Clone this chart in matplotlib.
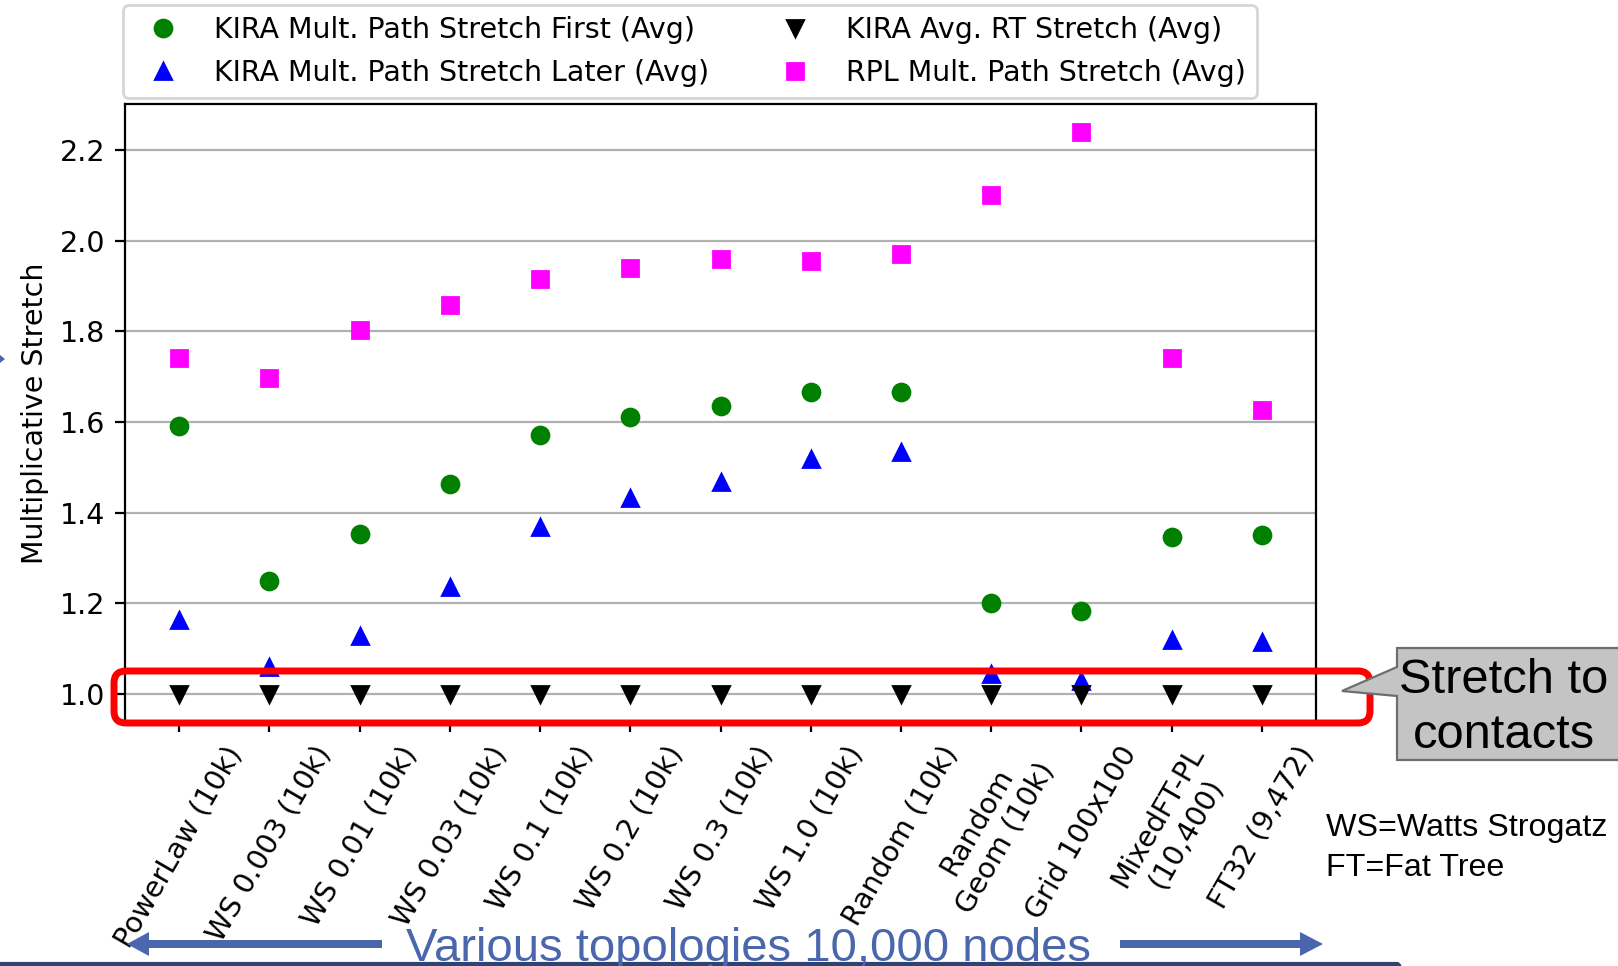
import matplotlib.pyplot as plt
from matplotlib.patches import FancyBboxPatch, Polygon, FancyArrow

# Average multiplicative stretch per topology (10k-node experiments)
topologies = ["PowerLaw (10k)", "WS 0.003 (10k)", "WS 0.01 (10k)", "WS 0.03 (10k)",
              "WS 0.1 (10k)", "WS 0.2 (10k)", "WS 0.3 (10k)", "WS 1.0 (10k)",
              "Random (10k)", "Random\nGeom (10k)", "Grid 100x100",
              "MixedFT-PL\n(10,400)", "FT32 (9,472)"]

kira_first = [1.592, 1.249, 1.353, 1.464, 1.571, 1.612, 1.635, 1.667, 1.667,
              1.200, 1.182, 1.346, 1.351]
kira_later = [1.164, 1.060, 1.128, 1.235, 1.369, 1.433, 1.467, 1.519, 1.533,
              1.045, 1.028, 1.119, 1.114]
kira_rt = [1.0, 1.0, 1.0, 1.0, 1.0, 1.0, 1.0, 1.0, 1.0, 1.0, 1.0, 1.0, 1.0]
rpl = [1.742, 1.697, 1.804, 1.858, 1.915, 1.940, 1.961, 1.956, 1.972,
       2.102, 2.240, 1.742, 1.626]

DPI = 200
W, H = 1618, 966
ARIAL = ['Liberation Sans', 'DejaVu Sans']
SLIDE_BLUE = '#4a66ac'

plt.rcParams['font.size'] = 10.25
plt.rcParams['lines.markersize'] = 6.1


def inch(x, y):
    # pixel position (from top-left) -> inches from bottom-left
    return x / DPI, (H - y) / DPI


def plot_stretch():
    fig = plt.figure(figsize=(W / DPI, H / DPI), dpi=DPI)
    ax = fig.add_axes([125 / W, 1 - 722 / H, (1316 - 125) / W, (722 - 104) / H])

    x = list(range(len(topologies)))
    ax.plot(x, kira_first, 'o', color='green', label='KIRA Mult. Path Stretch First (Avg)')
    ax.plot(x, kira_later, '^', color='blue', label='KIRA Mult. Path Stretch Later (Avg)')
    ax.plot(x, kira_rt, 'v', color='black', label='KIRA Avg. RT Stretch (Avg)')
    ax.plot(x, rpl, 's', color='magenta', label='RPL Mult. Path Stretch (Avg)')

    ax.set_xticks(x)
    ax.set_xticklabels(topologies, rotation=60)
    ax.set_yticks([1.0, 1.2, 1.4, 1.6, 1.8, 2.0, 2.2])
    ax.set_ylabel('Multiplicative Stretch')
    ax.yaxis.grid(True)
    ax.legend(ncol=2, loc='upper left', bbox_to_anchor=(123 / W, 1 - 5 / H),
              bbox_transform=fig.transFigure, borderaxespad=0)

    tr = fig.dpi_scale_trans

    # red box around the RT stretch row
    x0, y0 = inch(114, 723)
    fig.add_artist(FancyBboxPatch((x0, y0), 1256 / DPI, 52 / DPI,
                                  boxstyle='round,pad=0,rounding_size=0.06',
                                  transform=tr, fill=False, edgecolor='red',
                                  lw=2.5, zorder=5))

    # callout box
    pts = [inch(1397, 648), inch(1660, 648), inch(1660, 760), inch(1397, 760),
           inch(1397, 696), inch(1342, 691), inch(1397, 667)]
    fig.add_artist(Polygon(pts, closed=True, transform=tr, facecolor='#c4c4c4',
                           edgecolor='#6e6e6e', lw=0.8, zorder=5))
    fig.text(*inch(1504, 693), 'Stretch to', transform=tr, family=ARIAL,
             fontsize=17.6, ha='center', va='baseline', zorder=6)
    fig.text(*inch(1504, 748), 'contacts', transform=tr, family=ARIAL,
             fontsize=17.6, ha='center', va='baseline', zorder=6)

    fig.text(*inch(1326, 836), 'WS=Watts Strogatz', transform=tr, family=ARIAL,
             fontsize=11.6, va='baseline')
    fig.text(*inch(1326, 876), 'FT=Fat Tree', transform=tr, family=ARIAL,
             fontsize=11.6, va='baseline')

    # bottom banner with arrows
    fig.text(*inch(749, 961), 'Various topologies 10,000 nodes', transform=tr,
             family=ARIAL, fontsize=17, color=SLIDE_BLUE, ha='center', va='baseline')
    sx, sy = inch(382, 944)
    fig.add_artist(FancyArrow(sx, sy, -(382 - 127) / DPI, 0, width=8 / DPI,
                              head_width=24 / DPI, head_length=22 / DPI,
                              length_includes_head=True, transform=tr,
                              color=SLIDE_BLUE, lw=0))
    sx, sy = inch(1120, 944)
    fig.add_artist(FancyArrow(sx, sy, (1323 - 1120) / DPI, 0, width=8 / DPI,
                              head_width=24 / DPI, head_length=23 / DPI,
                              length_includes_head=True, transform=tr,
                              color=SLIDE_BLUE, lw=0))
    bx, by = inch(-30, 1100)
    fig.add_artist(FancyBboxPatch((bx, by), (1407 + 30) / DPI, (1100 - 964) / DPI,
                                  boxstyle='round,pad=0,rounding_size=0.05',
                                  transform=tr, fill=False, edgecolor='#2f4270',
                                  lw=1.5))
    fig.add_artist(Polygon([inch(0, 355), inch(5, 359), inch(0, 363)], closed=True,
                           transform=tr, color=SLIDE_BLUE, lw=0))

    fig.savefig('out.png', dpi=DPI)


def main():
    plot_stretch()


if __name__ == '__main__':
    main()
